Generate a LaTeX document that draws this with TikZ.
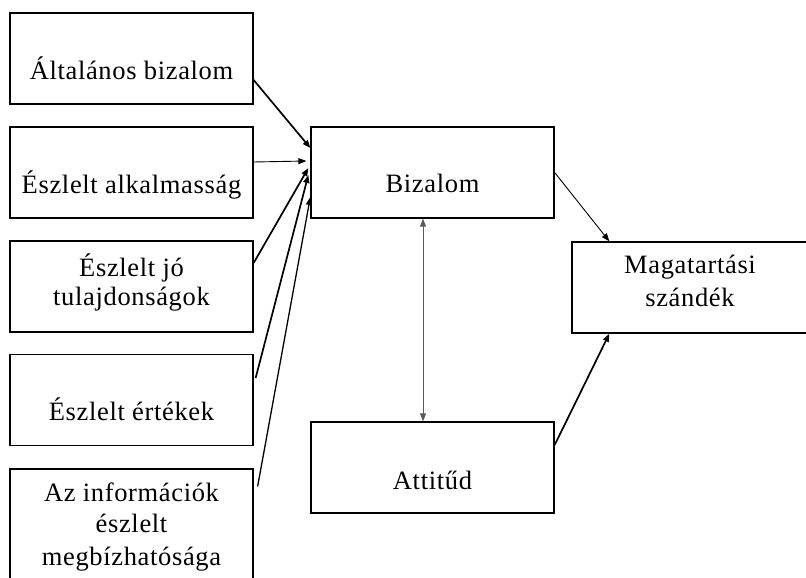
\documentclass[tikz,border=0pt]{standalone}
\usepackage{fontspec}
\setmainfont{Liberation Serif}[LetterSpace=2.5]
\usetikzlibrary{arrows.meta}
\tikzset{
  box/.style={draw,line width=1.3pt,minimum width=243pt,minimum height=91pt,inner sep=0pt},
  lbl/.style={font=\fontsize{26.5}{32}\selectfont,align=center,anchor=base,inner sep=0pt},
  ar/.style={-{Triangle[length=8pt,width=6pt]},line width=1.7pt},
  tar/.style={ar,line width=0.9pt},
  mar/.style={ar,line width=1.3pt},
  dar/.style={{Triangle[length=8pt,width=6pt]}-{Triangle[length=8pt,width=6pt]},line width=0.9pt,draw=black!65},
}
\begin{document}
\begin{tikzpicture}[x=1pt,y=-1pt]
\useasboundingbox (0,0) rectangle (806,578);
\clip (0,0) rectangle (806,578);
% ---- factors ----
\node[box] (gen) at (131.5,58.5) {};
\node[box] (alk) at (131.5,172.5) {};
\node[box] (jo) at (131.5,286.5) {};
\node[box] (ert) at (131.5,400) {};
\node[box,minimum height=140pt] (inf) at (131.5,539) {};
% last line sits on the given baseline
\node[lbl] (tgen) at (131.5,79) {Általános bizalom};
\node[lbl] (talk) at (131.5,193) {Észlelt alkalmasság};
\node[lbl] (tjo) at (131.5,305) {Észlelt jó\\[-3pt]tulajdonságok};
\node[lbl] (tert) at (131.5,420) {Észlelt értékek};
\node[lbl] (tinf) at (131.5,565) {Az információk\\[-1pt]észlelt\\[1pt]megbízhatósága};
% ---- model ----
\node[box] (biz) at (432.5,172.5) {};
\node[box] (att) at (432.5,467.5) {};
\node[box,minimum width=260pt] (mag) at (702,287.5) {};
\node[lbl] (tbiz) at (432.5,192) {Bizalom};
\node[lbl] (tatt) at (432.5,489) {Attitűd};
\node[lbl] (tmag) at (690,306) {Magatartási\\[1pt]szándék};
% ---- arrows ----
\draw[ar] ([yshift=-21.5pt]gen.east) -- ([yshift=24.5pt]biz.west);
\draw[tar] ([yshift=10.5pt]alk.east) -- ([xshift=-4pt,yshift=11.5pt]biz.west);
\draw[ar] ([yshift=23.5pt]jo.east) -- ([xshift=-2pt,yshift=4.5pt]biz.west);
\draw[ar] ([xshift=2pt,yshift=22pt]ert.east) -- ([xshift=-2pt,yshift=-2.5pt]biz.west);
\draw[mar] ([xshift=4pt,yshift=-18pt]inf.north east) -- ([yshift=-24.5pt]biz.west);
\draw[dar] ([xshift=-9.5pt]biz.south) -- ([xshift=-9.5pt]att.north);
\draw[tar] (biz.east) -- ([xshift=38pt]mag.north west);
\draw[ar] ([yshift=22.5pt]att.east) -- ([xshift=38pt]mag.south west);
\end{tikzpicture}
\end{document}
